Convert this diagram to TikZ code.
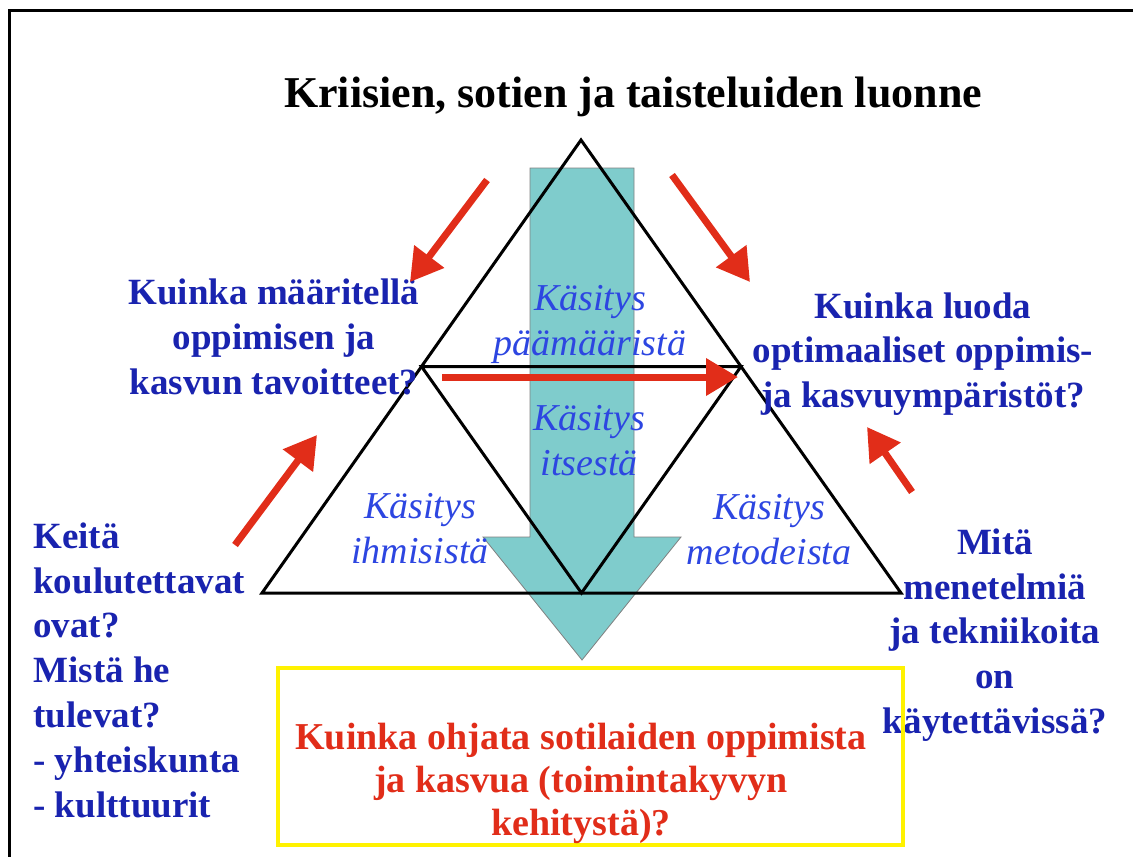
\documentclass[tikz,border=0pt]{standalone}
\usepackage{fontspec}
\setmainfont{Liberation Serif}
\usetikzlibrary{arrows.meta,positioning}
\definecolor{qblue}{RGB}{25,35,175}
\definecolor{kblue}{RGB}{45,70,225}
\definecolor{ored}{RGB}{225,45,25}
\definecolor{aqua}{RGB}{127,204,204}
\tikzstyle{bq} = [text=qblue, font=\fontsize{18.5}{22.4}\selectfont\bfseries,
    align=center, inner sep=0pt]
\tikzstyle{kt} = [text=kblue, font=\fontsize{19}{22.5}\selectfont\itshape,
    align=center, inner sep=0pt]
\tikzstyle{ra} = [color=ored, line width=3.5pt, -{Triangle[length=16pt,width=18pt]}]

\begin{document}
\begin{tikzpicture}[x=0.5pt,y=-0.5pt,line join=miter]
  \useasboundingbox (0,0) rectangle (1133,856);
  \draw[line width=1.5pt] (9,900) -- (9,11) -- (1180,11);

  % big arrow, behind the triangle
  \filldraw[fill=aqua, draw=black!50, line width=0.4pt] (530,168) -- (634,168) -- (634,537)
    -- (681,537) -- (582,660) -- (483,537) -- (530,537) -- cycle;

  \coordinate (t)  at (581,140);
  \coordinate (l)  at (262,593);
  \coordinate (r)  at (901,593);
  \coordinate (ml) at (421.5,366.5);
  \coordinate (mr) at (741,366.5);
  \coordinate (b)  at (581.5,593);
  \draw[line width=1.5pt] (t) -- (l) -- (r) -- cycle;
  \draw[line width=1.5pt] (ml) -- (mr) -- (b) -- cycle;

  \node (title) at (633,97) {\fontsize{22}{26}\selectfont\bfseries Kriisien, sotien ja taisteluiden luonne};

  \node[kt] (k1) at (590,324) {Käsitys\\päämääristä};
  \node[kt] (k2) at (589,441) {Käsitys\\itsestä};
  \node[kt] (k3) at (420,529) {Käsitys\\ihmisistä};
  \node[kt] (k4) at (769,530) {Käsitys\\metodeista};

  \node[bq] (q1) at (274,337) {Kuinka määritellä\\oppimisen ja\\kasvun tavoitteet?};
  \node[bq] (q2) at (923,354) {Kuinka luoda\\optimaaliset oppimis-\\ja kasvuympäristöt?};
  \node[bq,anchor=west,align=left] (q3) at (33,670) {Keitä\\koulutettavat\\ovat?\\Mistä he\\tulevat?\\- yhteiskunta\\- kulttuurit};
  \node[bq] (q4) at (995,635) {Mitä\\menetelmiä\\ja tekniikoita\\on\\käytettävissä?};

  \node[draw=yellow, line width=2pt, minimum width=312.5pt, minimum height=88.5pt] (box) at (590.5,756.5) {};
  \node[text=ored, font=\fontsize{19}{21.5}\selectfont\bfseries, align=center, inner sep=0pt]
    (goal) at (581,783) {Kuinka ohjata sotilaiden oppimista\\ja kasvua (toimintakyvyn\\kehitystä)?};

  \coordinate (a1) at (487,180); \coordinate (a1h) at (410,282);
  \coordinate (a2) at (672,175); \coordinate (a2h) at (750,282);
  \coordinate (a3) at (442,377); \coordinate (a3h) at (738,377);
  \coordinate (a4) at (235,545); \coordinate (a4h) at (317,435);
  \coordinate (a5) at (912,492); \coordinate (a5h) at (867,427);
  \path (a1) edge[ra] (a1h)
  (a2) edge[ra] (a2h)
  (a3) edge[ra] (a3h)
  (a4) edge[ra] (a4h)
  (a5) edge[ra] (a5h);
\end{tikzpicture}
\end{document}
